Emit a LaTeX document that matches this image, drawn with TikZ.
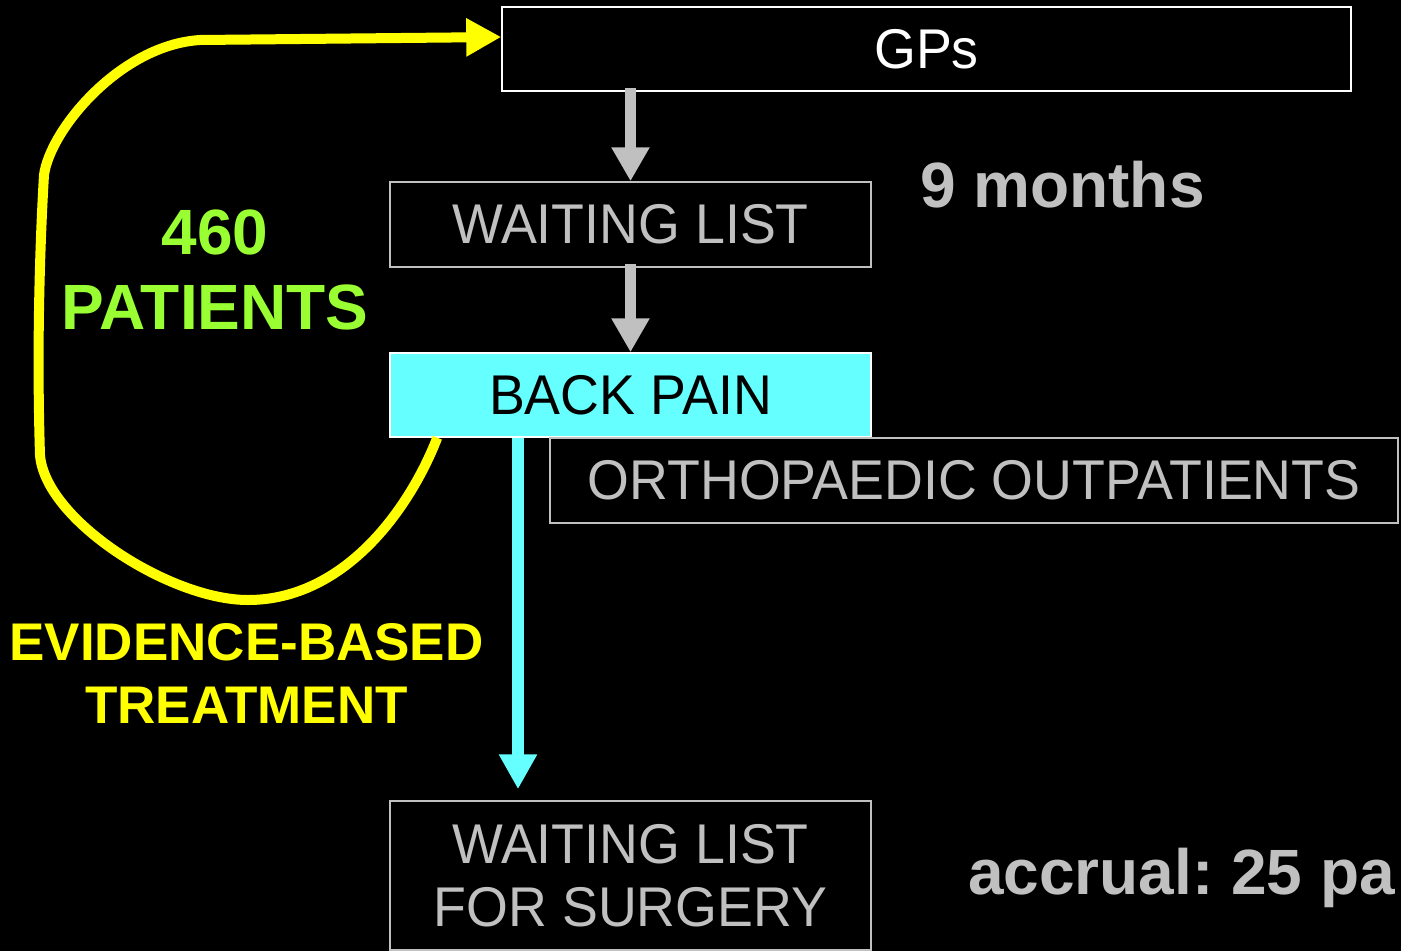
\documentclass[tikz,border=0pt]{standalone}
\usepackage{fontspec}
\setmainfont{Liberation Sans}
\newfontfamily\boxfont[FakeStretch=0.96]{Liberation Sans}
\usepackage{xcolor}
\usepackage{tikz}
\usetikzlibrary{positioning,calc,arrows.meta}

\definecolor{slidegray}{RGB}{192,192,192}
\definecolor{slidecyan}{RGB}{102,255,255}
\definecolor{slidegreen}{RGB}{153,255,51}
\definecolor{slideyellow}{RGB}{255,255,0}

\frenchspacing

\begin{document}
\begin{tikzpicture}[
					x=1pt, y=-1pt,
					box/.style={
						rectangle, draw=slidegray, line width=1.5pt,
						text=slidegray, inner sep=0pt,
						font=\boxfont\fontsize{56}{63}\selectfont
					},
					remark/.style={
						inner sep=0pt,
						font=\bfseries\fontsize{64}{75}\selectfont
					},
					grayarrow/.style={
						draw=slidegray, line width=11pt,
						-{Triangle[length=34pt,width=36pt]}
					},
					cyanarrow/.style={
						draw=slidecyan, line width=12pt,
						-{Triangle[length=35pt,width=36pt]}
					},
					loopline/.style={
						draw=slideyellow, line width=10pt, line join=round,
						-{Triangle[length=35pt,width=36pt]}
					}
					]
					% nền đen
					\fill[black] (0,0) rectangle (1401,951);
					\useasboundingbox (0,0) rectangle (1401,951);
					
					% Các hộp
					\node[box, draw=white, text=white, text depth=0pt,
						minimum width=849pt, minimum height=84pt] (gp) at (926.5,49) {GPs};
					\node[box, minimum width=481pt, minimum height=85pt] (wl) at (630.5,224.5) {WAITING LIST};
					\node[box, draw=white, fill=slidecyan, text=black,
						minimum width=481pt, minimum height=84pt] (bp) at (630.5,395) {BACK PAIN};
					\node[box, minimum width=848pt, minimum height=85pt] (op) at (974,480.5) {ORTHOPAEDIC OUTPATIENTS};
					\node[box, align=center, minimum width=481pt, minimum height=149pt] (ws) at (630.5,875.5) {WAITING LIST\\FOR SURGERY};
					
					% Mũi tên
					\draw[grayarrow] ([yshift=4pt]wl.north |- gp.south) -- (wl.north);
					\draw[grayarrow] ([yshift=4pt]wl.south) -- (bp.north);
					\draw[cyanarrow] ([xshift=-112.5pt]bp.south) -- ([xshift=-112.5pt,yshift=11pt]ws.north);
					
					% Vòng màu vàng quay lại GPs
					\coordinate (ys) at ([xshift=48pt]bp.south west);
					\coordinate (ye) at ([yshift=12pt]gp.west);
					\draw[loopline] (ys) .. controls (410,508) and (345,600) .. (248,600)
						.. controls (170,600) and (45,520) .. (40,455)
						.. controls (37,360) and (39,260) .. (44,175)
						.. controls (50,130) and (120,45) .. (200,40)
						-- (ye);
					
					% Nhãn
					\node[remark, text=slidegreen, align=center] (pt) at (215,270) {460\\PATIENTS};
					\node[remark, text=slideyellow, align=center, font=\bfseries\fontsize{53}{63}\selectfont] (eb) at (246.5,673) {EVIDENCE-BASED\\TREATMENT};
					\node[remark, text=slidegray, anchor=base west] (mo) at (920,207) {9 months};
					\node[remark, text=slidegray, anchor=base west] (ac) at (968,894) {accrual: 25 pa};
				\end{tikzpicture}
\end{document}
